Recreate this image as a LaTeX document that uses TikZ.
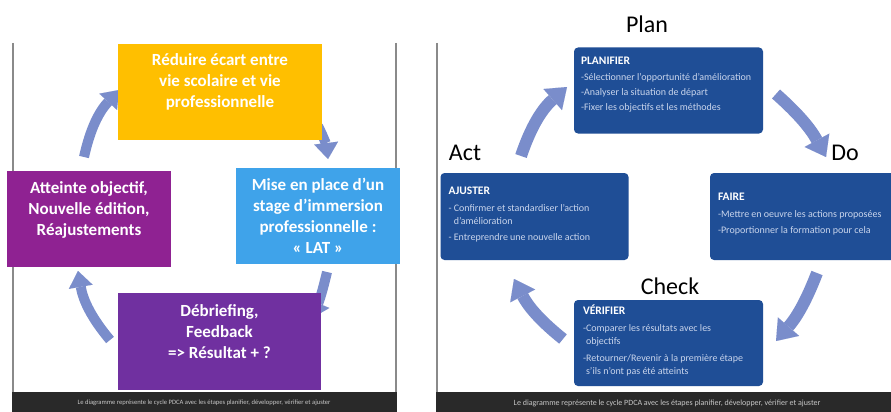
\documentclass[tikz,border=0pt]{standalone}
\usepackage{fontspec}
\setmainfont{Carlito}
\usetikzlibrary{arrows.meta}

\definecolor{geel}{HTML}{FFBF00}
\definecolor{hemelblauw}{HTML}{3FA3EA}
\definecolor{magenta}{HTML}{8F2292}
\definecolor{paars}{HTML}{7030A0}
\definecolor{pdcablauw}{HTML}{1F4E96}
\definecolor{pdcalicht}{HTML}{C9D5EC}
\definecolor{pijlkleur}{HTML}{7A8DCB}
\definecolor{bandkleur}{HTML}{292929}
\definecolor{kaderkleur}{HTML}{8A8A8A}

\newcommand{\pdcatitel}[1]{{\fontsize{11.5}{13}\selectfont\bfseries\color{white}#1}}

\begin{document}
\begin{tikzpicture}[
        x = 1pt, y = 1pt,
        blok/.style = {
            rectangle,
            inner sep = 0pt,
        },
        bloktekst/.style = {
            text = white,
            align = center,
            inner sep = 0pt,
            font = \fontsize{17}{21}\selectfont\bfseries,
        },
        pdca/.style = {
            fill = pdcablauw,
            rounded corners = 4pt,
            inner sep = 0pt,
        },
        pdcatekst/.style = {
            anchor = north west,
            align = left,
            text = pdcalicht,
            inner sep = 0pt,
            font = \fontsize{10}{13}\selectfont,
        },
        fase/.style = {
            font = \fontsize{24}{26}\selectfont,
        },
        voettekst/.style = {
            text = white!78!black,
            font = \fontsize{6.6}{7}\selectfont,
        },
        pijl/.style = {
            color = pijlkleur,
            line width = 10pt,
            -{Triangle[width = 24pt, length = 16pt, line width = 0.01pt]},
        },
        grotepijl/.style = {
            color = pijlkleur,
            line width = 12pt,
            -{Triangle[width = 28pt, length = 19pt, line width = 0.01pt]},
        },
        ]

        \clip (0,0) rectangle (891,-412);
        \fill[white] (0,0) rectangle (891,-412);

        % Kader en banden
        \draw[kaderkleur, line width = 1.5pt] (13,-43) -- (13,-392);
        \draw[kaderkleur, line width = 1.5pt] (396,-43) -- (396,-392);
        \draw[kaderkleur, line width = 1.5pt] (437,-43) -- (437,-392);
        \fill[bandkleur] (12,-392) rectangle (397,-412);
        \fill[bandkleur] (436,-392) rectangle (891,-412);
        \node[voettekst] (voetlinks) at (204,-403) {Le diagramme représente le cycle PDCA avec les étapes planifier, développer, vérifier et ajuster};
        \node[voettekst, font = \fontsize{8}{9}\selectfont] (voetrechts) at (667,-403) {Le diagramme représente le cycle PDCA avec les étapes planifier, développer, vérifier et ajuster};

        % Eindpunten van de pijlen
        \coordinate (l1a) at (84,-157);   \coordinate (l1b) at (119,-90);
        \coordinate (l2a) at (318,-126);  \coordinate (l2b) at (328,-159);
        \coordinate (l3a) at (327,-272);  \coordinate (l3b) at (312,-318);
        \coordinate (l4a) at (110,-340);  \coordinate (l4b) at (78,-271);
        \coordinate (r1a) at (521,-156);  \coordinate (r1b) at (567,-87);
        \coordinate (r2a) at (776,-94);   \coordinate (r2b) at (826,-157);
        \coordinate (r3a) at (817,-273);  \coordinate (r3b) at (776,-341);
        \coordinate (r4a) at (563,-339);  \coordinate (r4b) at (514,-279);

        % Pijlen
        \draw[pijl] (l1a) to[bend left = 15] (l1b);
        \draw[pijl] (l2a) to[bend left = 10] (l2b);
        \draw[pijl] (l3a) to[bend left = 5] (l3b);
        \draw[pijl] (l4a) to[bend left = 15] (l4b);
        \draw[grotepijl] (r1a) to[bend left = 15] (r1b);
        \draw[grotepijl] (r2a) to[bend left = 10] (r2b);
        \draw[grotepijl] (r3a) to[bend left = 10] (r3b);
        \draw[grotepijl] (r4a) to[bend left = 12] (r4b);

        % Blokken links
        \node[blok, fill = geel, minimum width = 204, minimum height = 96] (reduire) at (220,-92) {};
        \node[blok, fill = hemelblauw, minimum width = 164, minimum height = 96] (lat) at (318,-216) {};
        \node[blok, fill = magenta, minimum width = 164, minimum height = 96] (atteinte) at (89,-219) {};
        \node[blok, fill = paars, minimum width = 203, minimum height = 97] (debriefing) at (219.5,-341.5) {};

        \node[bloktekst] (reduiretekst) at ([yshift = 10]reduire.center) {Réduire écart entre\\vie scolaire et vie\\professionnelle};
        \node[bloktekst] (lattekst) at (lat.center) {Mise en place d’un\\stage d’immersion\\professionnelle :\\« LAT »};
        \node[bloktekst] (atteintetekst) at ([yshift = 9]atteinte.center) {Atteinte objectif,\\Nouvelle édition,\\Réajustements};
        \node[bloktekst] (debriefingtekst) at ([yshift = 10]debriefing.center) {Débriefing,\\Feedback\\=> Résultat + ?};

        % Blokken rechts
        \node[pdca, minimum width = 189, minimum height = 86] (planifier) at (668.5,-90.5) {};
        \node[pdca, minimum width = 188, minimum height = 87] (ajuster) at (534.5,-216.5) {};
        \node[pdca, minimum width = 190, minimum height = 87] (faire) at (805,-216.5) {};
        \node[pdca, minimum width = 189, minimum height = 86] (verifier) at (668.5,-343) {};

        \node[pdcatekst] (planifiertekst) at ([shift = {(7,-10)}]planifier.north west)
            {\pdcatitel{PLANIFIER}\\[3pt]
             -Sélectionner l’opportunité d’amélioration\\[2pt]
             -Analyser la situation de départ\\[2pt]
             -Fixer les objectifs et les méthodes};
        \node[pdcatekst] (ajustertekst) at ([shift = {(8,-14)}]ajuster.north west)
            {\pdcatitel{AJUSTER}\\[4pt]
             - Confirmer et standardiser l’action\\
             \phantom{- }d’amélioration\\[3pt]
             - Entreprendre une nouvelle action};
        \node[pdcatekst] (fairetekst) at ([shift = {(8,-20)}]faire.north west)
            {\pdcatitel{FAIRE}\\[4pt]
             -Mettre en oeuvre les actions proposées\\[3pt]
             -Proportionner la formation pour cela};
        \node[pdcatekst] (verifiertekst) at ([shift = {(9,-5)}]verifier.north west)
            {\pdcatitel{VÉRIFIER}\\[4pt]
             -Comparer les résultats avec les\\
             \phantom{-}objectifs\\[4pt]
             -Retourner/Revenir à la première étape\\
             \phantom{-}s’ils n’ont pas été atteints};

        % Fasen
        \node[fase] (plan) at (647,-24) {Plan};
        \node[fase] (act) at (465,-153) {Act};
        \node[fase] (do) at (845,-153) {Do};
        \node[fase] (check) at (670,-286) {Check};
\end{tikzpicture}
\end{document}
